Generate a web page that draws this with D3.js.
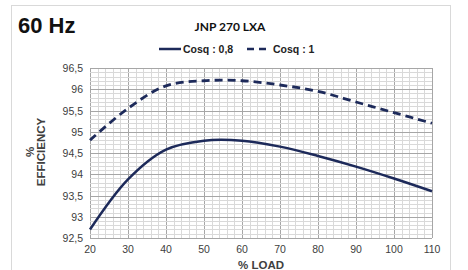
<!DOCTYPE html>
<html>
<head>
<meta charset="utf-8">
<script src="https://cdn.jsdelivr.net/npm/d3@7"></script>
<style>
  html, body { margin: 0; padding: 0; background: #fff; }
  svg { display: block; }
</style>
</head>
<body>
<svg id="chart" width="468" height="270"></svg>
<script>
// values
const loads = [20, 30, 40, 50, 60, 70, 80, 90, 100, 110];
const effCos08 = [92.7, 93.88, 94.58, 94.79, 94.79, 94.65, 94.43, 94.18, 93.9, 93.6];
const effCos1 = [94.8, 95.55, 96.08, 96.2, 96.2, 96.1, 95.95, 95.7, 95.45, 95.2];
const yTicks = [92.5, 93, 93.5, 94, 94.5, 95, 95.5, 96, 96.5];
const xTicks = [20, 30, 40, 50, 60, 70, 80, 90, 100, 110];

const svg = d3.select("#chart");
const navy = "#1d2a5a";
const fmt = v => String(v).replace(".", ",");

// outer frame
svg.append("rect")
  .attr("x", 11.5).attr("y", 5.5)
  .attr("width", 439).attr("height", 280)
  .attr("fill", "none").attr("stroke", "#d9d9d9");

const plotL = 90, plotR = 432, plotT = 68, plotB = 238;
const x = d3.scaleLinear().domain([20, 110]).range([plotL, plotR]);
const y = d3.scaleLinear().domain([92.5, 96.5]).range([plotB, plotT]);

// grid
const grid = svg.append("g").attr("shape-rendering", "crispEdges");
d3.range(20, 110.01, 2).forEach(v => {
  grid.append("line")
    .attr("x1", Math.round(x(v)) + 0.5).attr("x2", Math.round(x(v)) + 0.5)
    .attr("y1", plotT).attr("y2", plotB)
    .attr("stroke", v % 10 === 0 ? "#a6a6a6" : "#d9d9d9");
});
d3.range(0, 41).forEach(i => {
  const v = 92.5 + i * 0.1;
  grid.append("line")
    .attr("x1", plotL).attr("x2", plotR)
    .attr("y1", Math.round(y(v)) + 0.5).attr("y2", Math.round(y(v)) + 0.5)
    .attr("stroke", i % 5 === 0 ? "#a6a6a6" : "#d9d9d9");
});

// axes labels
svg.append("g").selectAll("text")
  .data(yTicks).join("text")
  .attr("x", plotL - 7).attr("y", d => y(d) + 4)
  .attr("text-anchor", "end")
  .attr("font-family", "Liberation Sans, Arial, sans-serif")
  .attr("font-size", 10.5).attr("fill", "#404040")
  .text(fmt);

svg.append("g").selectAll("text")
  .data(xTicks).join("text")
  .attr("x", d => x(d)).attr("y", plotB + 15)
  .attr("text-anchor", "middle")
  .attr("font-family", "Liberation Sans, Arial, sans-serif")
  .attr("font-size", 10.5).attr("fill", "#404040")
  .text(d => d);

svg.append("text")
  .attr("x", 261).attr("y", 269)
  .attr("text-anchor", "middle")
  .attr("font-family", "Liberation Sans, Arial, sans-serif")
  .attr("font-size", 11.5).attr("font-weight", "bold").attr("fill", "#404040")
  .text("% LOAD");

const yt = svg.append("text")
  .attr("transform", "translate(0,152) rotate(-90)")
  .attr("text-anchor", "middle")
  .attr("font-family", "Liberation Sans, Arial, sans-serif")
  .attr("font-size", 11.5).attr("font-weight", "bold").attr("fill", "#404040");
yt.append("tspan").attr("x", 0).attr("y", 34).text("%");
yt.append("tspan").attr("x", 0).attr("y", 45).text("EFFICIENCY");

// titles
svg.append("text")
  .attr("x", 18).attr("y", 33)
  .attr("font-family", "Liberation Sans, Arial, sans-serif")
  .attr("font-size", 22).attr("font-weight", "bold").attr("fill", "#111")
  .text("60 Hz");

svg.append("text")
  .attr("x", 230).attr("y", 31)
  .attr("text-anchor", "middle")
  .attr("font-family", "Lato, 'Open Sans', sans-serif")
  .attr("font-size", 12).attr("font-weight", "bold").attr("fill", "#111")
  .text("JNP 270 LXA");

// legend
const lg = svg.append("g")
  .attr("font-family", "Liberation Sans, Arial, sans-serif")
  .attr("font-size", 10.5).attr("font-weight", "bold").attr("fill", "#222");
lg.append("line").attr("x1", 159).attr("x2", 181).attr("y1", 49).attr("y2", 49)
  .attr("stroke", navy).attr("stroke-width", 2.5);
lg.append("text").attr("x", 183).attr("y", 53).text("Cosq : 0,8");
lg.append("line").attr("x1", 247).attr("x2", 270).attr("y1", 49).attr("y2", 49)
  .attr("stroke", navy).attr("stroke-width", 2.5).attr("stroke-dasharray", "7,5");
lg.append("text").attr("x", 273).attr("y", 53).text("Cosq : 1");

// curves
const line = d3.line()
  .x(d => x(d[0])).y(d => y(d[1]))
  .curve(d3.curveCatmullRom.alpha(0.5));

svg.append("path")
  .datum(loads.map((l, i) => [l, effCos08[i]]))
  .attr("d", line)
  .attr("fill", "none").attr("stroke", navy).attr("stroke-width", 2.5);

svg.append("path")
  .datum(loads.map((l, i) => [l, effCos1[i]]))
  .attr("d", line)
  .attr("fill", "none").attr("stroke", navy).attr("stroke-width", 2.8)
  .attr("stroke-dasharray", "8,5");
</script>
</body>
</html>
